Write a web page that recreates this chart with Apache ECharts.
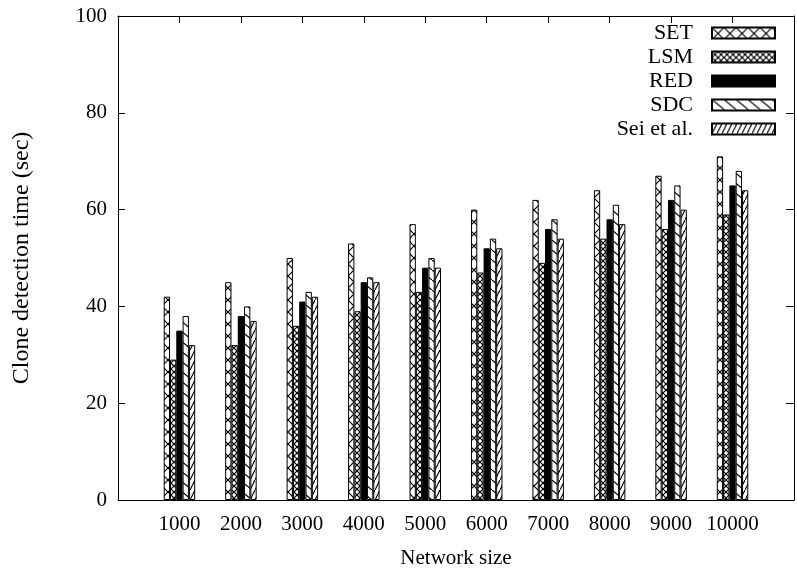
<!DOCTYPE html>
<html>
<head>
<meta charset="utf-8">
<script src="https://cdn.jsdelivr.net/npm/echarts@6/dist/echarts.min.js"></script>
<style>
  html, body { margin: 0; padding: 0; background: #fff; }
  .demo { width: 797px; height: 574px; }
</style>
</head>
<body>
<div class="demo"></div>
<script>
const sizes = [1000, 2000, 3000, 4000, 5000, 6000, 7000, 8000, 9000, 10000];
const setData = [42, 45, 50, 53, 57, 60, 62, 64, 67, 71];
const lsmData = [29, 32, 36, 39, 43, 47, 49, 54, 56, 59];
const redData = [35, 38, 41, 45, 48, 52, 56, 58, 62, 65];
const sdcData = [38, 40, 43, 46, 50, 54, 58, 61, 65, 68];
const seiData = [32, 37, 42, 45, 48, 52, 54, 57, 60, 64];
const yTicks = [0, 20, 40, 60, 80, 100];

(function(){
  // hatch tiles: '/' and '\' drawn on the tile diagonals, so they repeat seamlessly
  function hatch(w, h, dirs) {
    const c = document.createElement('canvas')
    c.width = w
    c.height = h
    const ctx = c.getContext('2d')
    ctx.fillStyle = '#fff'
    ctx.fillRect(0, 0, w, h)
    ctx.strokeStyle = '#000'
    ctx.lineWidth = 1.2
    ctx.beginPath()
    if (dirs.indexOf('/') >= 0) {
      ctx.moveTo(-w, 2 * h); ctx.lineTo(2 * w, -h)
    }
    if (dirs.indexOf('\\') >= 0) {
      ctx.moveTo(-w, -h); ctx.lineTo(2 * w, 2 * h)
    }
    ctx.stroke()
    return { image: c, repeat: 'repeat' }
  }

  const chartinstance = echarts.init(document.querySelector('.demo'))
  const font = 'Liberation Serif'
  const pts = arr => arr.map((v, i) => [sizes[i], v])

  const styles = [
    hatch(12, 12, '/\\'),
    hatch(6, 6, '/\\'),
    '#000',
    hatch(12, 10, '\\'),
    hatch(5, 10, '/')
  ]
  const names = ['SET', 'LSM', 'RED', 'SDC', 'Sei et al.']
  const datas = [setData, lsmData, redData, sdcData, seiData]

  // fresh objects per axis, ticks point into the plot like gnuplot
  const tick = len => ({ show: true, inside: true, length: len, lineStyle: { color: '#000', width: 1 } })
  const line = () => ({ show: true, onZero: false, lineStyle: { color: '#000', width: 1 } })

  const option = {
    backgroundColor: '#fff',
    animation: false,
    textStyle: { fontFamily: font, color: '#000' },
    grid: { left: 118, right: -6, top: 16, bottom: 74, containLabel: false },
    legend: {
      orient: 'vertical',
      right: 16,
      top: 17,
      align: 'right',
      icon: 'rect',
      itemWidth: 63,
      itemHeight: 11,
      itemGap: 2,
      selectedMode: false,
      textStyle: { fontFamily: font, fontSize: 22, color: '#000', lineHeight: 18, padding: [0, 14, 0, 0] },
      data: names
    },
    xAxis: [
      {
        type: 'value',
        min: 0,
        max: 11000,
        interval: 1000,
        name: 'Network size',
        nameLocation: 'middle',
        nameGap: 48,
        nameTextStyle: { fontFamily: font, fontSize: 21, color: '#000' },
        axisLine: line(),
        axisTick: tick(7),
        splitLine: { show: false },
        axisLabel: {
          fontFamily: font, fontSize: 21, color: '#000', margin: 14,
          formatter: v => sizes.indexOf(v) >= 0 ? String(v) : ''
        }
      },
      {
        type: 'value',
        position: 'top',
        min: 0,
        max: 11000,
        interval: 1000,
        axisLine: line(),
        axisTick: tick(7),
        splitLine: { show: false },
        axisLabel: { show: false }
      }
    ],
    yAxis: [
      {
        type: 'value',
        min: yTicks[0],
        max: yTicks[yTicks.length - 1],
        interval: 20,
        name: 'Clone detection time (sec)',
        nameLocation: 'middle',
        nameGap: 84,
        nameTextStyle: { fontFamily: font, fontSize: 24, color: '#000' },
        axisLine: line(),
        axisTick: tick(7),
        splitLine: { show: false },
        axisLabel: { fontFamily: font, fontSize: 21, color: '#000', margin: 11 }
      },
      {
        type: 'value',
        position: 'right',
        min: yTicks[0],
        max: yTicks[yTicks.length - 1],
        interval: 20,
        axisLine: line(),
        axisTick: tick(8),
        splitLine: { show: false },
        axisLabel: { show: false }
      }
    ],
    series: names.map((n, k) => ({
      name: n,
      type: 'bar',
      xAxisIndex: 0,
      yAxisIndex: 0,
      barWidth: 6.3,
      barGap: '0%',
      data: pts(datas[k]),
      itemStyle: { color: styles[k], borderColor: '#000', borderWidth: 1 }
    }))
  }
  option && chartinstance.setOption(option)
  window.addEventListener('resize',()=>{
    chartinstance.resize();
  })
})();
</script>
</body>
</html>
